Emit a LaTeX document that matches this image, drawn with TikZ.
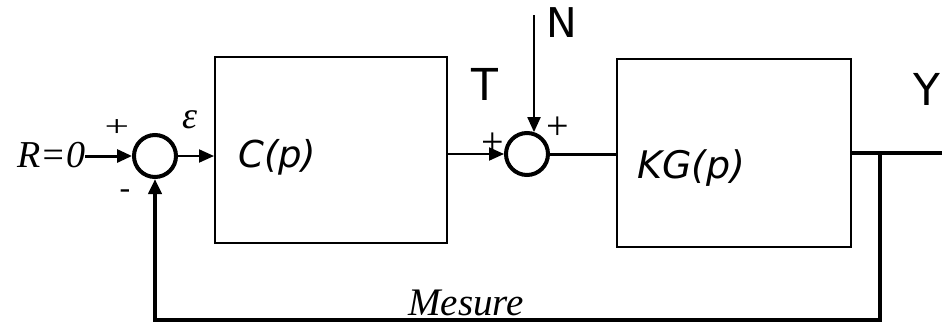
\documentclass[tikz,border=0pt]{standalone}
\usepackage{fontspec}
\setmainfont{Liberation Serif}
\newfontfamily\comic{DejaVu Sans}
\usetikzlibrary{arrows.meta}
\begin{document}
\begin{tikzpicture}[x=1pt,y=-1pt,
  sumnode/.style={circle,draw,line width=4pt,minimum size=42pt,inner sep=0pt},
  blk/.style={draw,line width=2pt,inner sep=0pt},
  lbl/.style={inner sep=0pt},
  tip/.style={-{Triangle[length=15pt,width=13pt]}},
  thinw/.style={line width=2pt},
  midw/.style={line width=3pt},
  thickw/.style={line width=4pt}]
\useasboundingbox (0,0) rectangle (942,324);
% summing junctions
\node[sumnode] (s1) at (155,156) {};
\node[sumnode] (s2) at (527,154) {};
% blocks
\node[blk,minimum width=232pt,minimum height=186pt] (C) at (331,150) {};
\node[blk,minimum width=234pt,minimum height=188pt] (KG) at (734,153) {};
% texts
\node[lbl,anchor=base west] (R) at (17,167) {\fontsize{38}{40}\selectfont\itshape R=0};
\node[lbl] (p1) at (117,128) {\fontsize{30}{32}\selectfont\scalebox{1.45}[1]{+}};
\node[lbl] (eps) at (190,120) {\fontsize{38}{40}\selectfont\itshape ε};
\node[lbl] (m1) at (125,194) {\fontsize{32}{34}\selectfont -};
\node[lbl,anchor=base west] (ct) at (238,167) {\comic\itshape\fontsize{37}{40}\selectfont C(p)};
\node[lbl] (T) at (485,84) {\comic\fontsize{44}{46}\selectfont T};
\node[lbl] (N) at (562,23) {\comic\fontsize{41}{44}\selectfont N};
\node[lbl] (p2) at (493,144) {\fontsize{40}{42}\selectfont +};
\node[lbl] (p3) at (558,128) {\fontsize{40}{42}\selectfont +};
\node[lbl,anchor=base west] (kgt) at (637,178) {\comic\itshape\fontsize{38}{40}\selectfont KG(p)};
\node[lbl] (Y) at (927,89) {\comic\fontsize{44}{46}\selectfont Y};
\node[lbl,anchor=base west] (mes) at (408,315) {\fontsize{39}{41}\selectfont\itshape Mesure};
% coordinates
\coordinate (br) at (880,153);
\coordinate (fb) at (880,320);
\coordinate (out) at (942,153);
\coordinate (ntop) at (534,15);
% connectors
\draw[midw,tip] (R.east |- s1.west) -- (s1.west);
\draw[thinw,tip] (s1.east) -- (C.west |- s1.east);
\draw[thinw,tip] (C.east |- s2.west) -- (s2.west);
\draw[thinw,tip] (ntop) -- (ntop |- s2.72);
\draw[midw] (s2.east) -- (KG.west |- s2.east);
\draw[thickw] (KG.east |- out) -- (out);
\draw[thickw,tip] (br) -- (fb) -| (s1.south);
\end{tikzpicture}
\end{document}
